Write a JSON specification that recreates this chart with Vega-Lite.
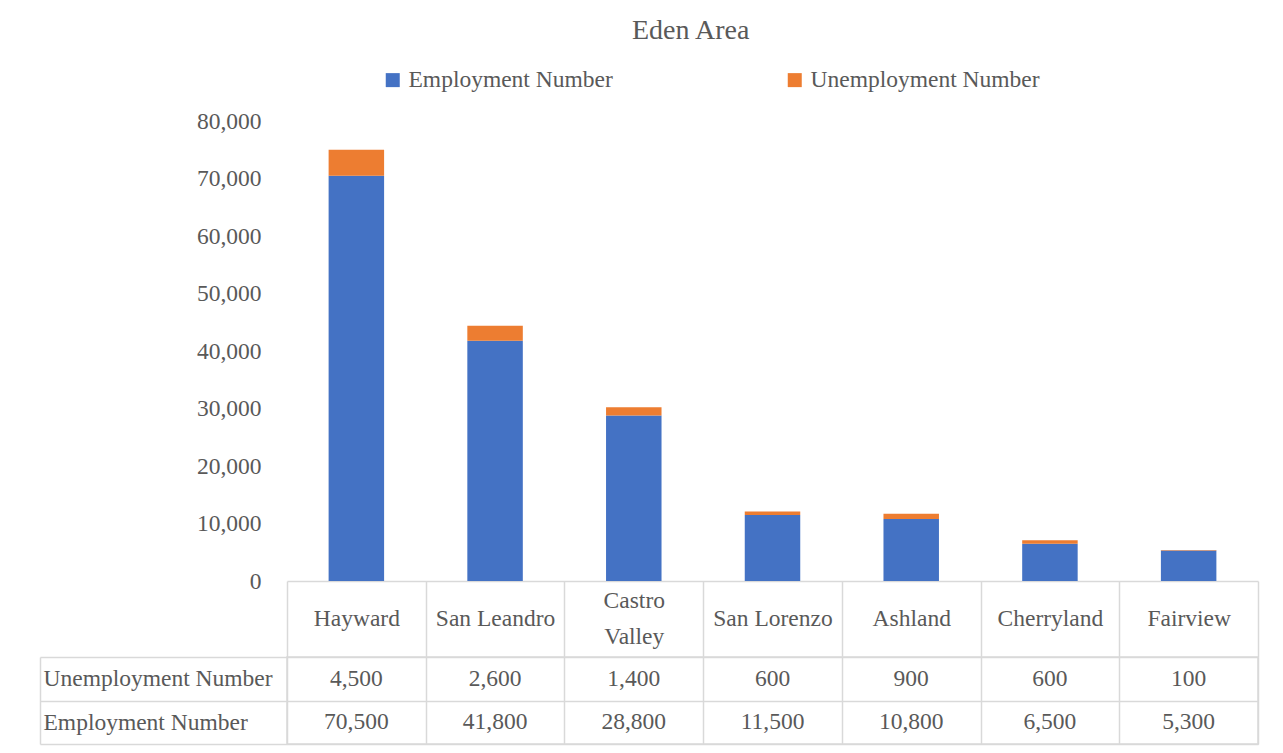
{
  "$schema": "https://vega.github.io/schema/vega-lite/v6.json",
  "padding": {"left": 38, "top": 17, "right": 20, "bottom": 5},
  "background": "white",
  "title": {"text": "Eden Area", "fontSize": 28, "font": "Liberation Serif", "fontWeight": "normal", "color": "#595959", "anchor": "middle", "frame": "bounds", "offset": 23, "dx": 42},
  "data": {"values": [
    {"city": "Hayward", "Employment Number": 70500, "Unemployment Number": 4500},
    {"city": "San Leandro", "Employment Number": 41800, "Unemployment Number": 2600},
    {"city": "Castro Valley", "Employment Number": 28800, "Unemployment Number": 1400},
    {"city": "San Lorenzo", "Employment Number": 11500, "Unemployment Number": 600},
    {"city": "Ashland", "Employment Number": 10800, "Unemployment Number": 900},
    {"city": "Cherryland", "Employment Number": 6500, "Unemployment Number": 600},
    {"city": "Fairview", "Employment Number": 5300, "Unemployment Number": 100}
  ]},
  "transform": [{"fold": ["Employment Number", "Unemployment Number"], "as": ["series", "value"]}],
  "bounds": "flush",
  "spacing": 76,
  "vconcat": [
    {
      "width": 971, "height": 460,
      "view": {"stroke": null},
      "mark": {"type": "bar", "width": {"band": 0.4}},
      "encoding": {
        "x": {"field": "city", "type": "nominal", "sort": null,
          "scale": {"type": "band", "paddingInner": 0, "paddingOuter": 0},
          "axis": {"title": null, "orient": "bottom", "domainColor": "#D9D9D9", "domainWidth": 1.5,
            "tickBand": "extent", "tickSize": 76, "tickColor": "#D9D9D9", "tickWidth": 1.5,
            "labelAngle": 0, "labelBaseline": "middle",
            "labelPadding": {"condition": {"test": "datum.value == 'Castro Valley'", "value": -57}, "value": -39},
            "labelFontSize": 23.5,
            "labelFont": "Liberation Serif", "labelColor": "#595959", "labelLineHeight": 36,
            "labelExpr": "datum.label == 'Castro Valley' ? ['Castro', 'Valley'] : datum.label"}},
        "y": {"field": "value", "type": "quantitative", "stack": "zero",
          "scale": {"domain": [0, 80000]},
          "axis": {"title": null, "domain": false, "ticks": false, "grid": false,
            "values": [0, 10000, 20000, 30000, 40000, 50000, 60000, 70000, 80000], "format": ",.0f",
            "labelPadding": 26, "labelFontSize": 23.5, "labelFont": "Liberation Serif", "labelColor": "#595959"}},
        "order": {"field": "series", "sort": "ascending"},
        "color": {"field": "series", "type": "nominal",
          "scale": {"domain": ["Employment Number", "Unemployment Number"], "range": ["#4472C4", "#ED7D31"]},
          "legend": {"title": null, "orient": "none", "direction": "horizontal", "legendX": 94, "legendY": -53,
            "symbolType": "square", "symbolSize": 196, "symbolStrokeWidth": 0, "labelOffset": 4,
            "columnPadding": 170, "labelFontSize": 23.5, "labelFont": "Liberation Serif", "labelColor": "#595959", "labelLimit": 400}}
      }
    },
    {
      "width": 971, "height": 87,
      "view": {"stroke": "#D9D9D9", "strokeWidth": 1.5},
      "mark": {"type": "text", "font": "Liberation Serif", "fontSize": 23.5, "color": "#595959"},
      "encoding": {
        "x": {"field": "city", "type": "nominal", "sort": null,
          "scale": {"type": "band", "paddingInner": 0, "paddingOuter": 0},
          "axis": {"title": null, "orient": "top", "labels": false, "ticks": false, "domain": false,
            "grid": true, "tickBand": "extent", "gridColor": "#D9D9D9", "gridWidth": 1.5, "minExtent": 0, "maxExtent": 0}},
        "y": {"field": "series", "type": "nominal", "sort": ["Unemployment Number", "Employment Number"],
          "scale": {"type": "band", "paddingInner": 0, "paddingOuter": 0},
          "axis": {"title": null, "offset": 247, "domain": true, "domainColor": "#D9D9D9", "domainWidth": 1.5,
            "tickBand": "extent", "tickSize": -247, "tickColor": "#D9D9D9", "tickWidth": 1.5,
            "grid": true, "gridColor": "#D9D9D9", "gridWidth": 1.5, "labelLimit": 400,
            "labelAlign": "left", "labelPadding": 244, "labelFontSize": 23.5, "labelFont": "Liberation Serif", "labelColor": "#595959"}},
        "text": {"field": "value", "type": "quantitative", "format": ","}
      }
    }
  ]
}
